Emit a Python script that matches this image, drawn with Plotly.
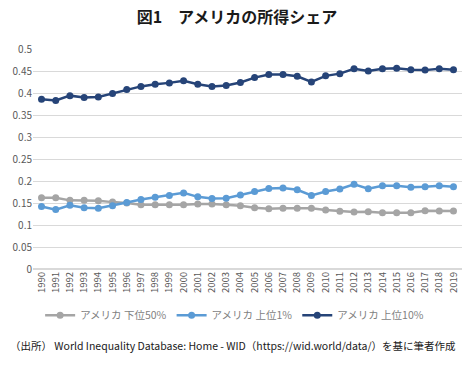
import plotly.graph_objects as go

years = [str(y) for y in range(1990, 2020)]
bottom50 = [0.162, 0.162, 0.156, 0.156, 0.155, 0.152, 0.150, 0.146, 0.146, 0.146,
            0.146, 0.148, 0.148, 0.146, 0.144, 0.139, 0.137, 0.138, 0.138, 0.138,
            0.134, 0.131, 0.1295, 0.130, 0.128, 0.128, 0.128, 0.1325, 0.132, 0.132]
top1 = [0.142, 0.135, 0.145, 0.139, 0.138, 0.144, 0.151, 0.158, 0.163, 0.167,
        0.173, 0.164, 0.160, 0.161, 0.168, 0.176, 0.183, 0.184, 0.180, 0.167,
        0.176, 0.182, 0.1925, 0.1825, 0.189, 0.189, 0.186, 0.187, 0.189, 0.187]
top10 = [0.386, 0.383, 0.394, 0.390, 0.391, 0.399, 0.408, 0.415, 0.420, 0.423,
         0.428, 0.420, 0.415, 0.417, 0.424, 0.435, 0.442, 0.442, 0.438, 0.425,
         0.439, 0.444, 0.455, 0.450, 0.455, 0.456, 0.453, 0.452, 0.455, 0.453]
names = ["アメリカ 下位50%", "アメリカ 上位1%", "アメリカ 上位10%"]
colors = ["#A5A5A5", "#5B9BD5", "#264478"]
ytickvals = [0, 0.05, 0.1, 0.15, 0.2, 0.25, 0.3, 0.35, 0.4, 0.45, 0.5]
yticktext = ["0", "0.05", "0.1", "0.15", "0.2", "0.25", "0.3", "0.35", "0.4", "0.45", "0.5"]

FONT = "Noto Sans CJK JP"
fig = go.Figure()
for name, vals, c in zip(names, [bottom50, top1, top10], colors):
    fig.add_trace(go.Scatter(x=years, y=vals, name=name, mode="lines+markers",
                             line=dict(color=c, width=2.5),
                             marker=dict(color=c, size=7)))

fig.update_layout(
    width=474, height=365,
    margin=dict(l=33, r=12, t=49, b=96),
    paper_bgcolor="white", plot_bgcolor="white",
    font=dict(family=FONT, color="#595959", size=10),
    title=dict(text="<b>図1　アメリカの所得シェア</b>", x=0.5, xanchor="center",
               y=1 - 17/365, yanchor="middle",
               font=dict(family=FONT, size=16, color="#1a1a1a")),
    xaxis=dict(type="category", tickangle=-90, showgrid=False, showline=False,
               ticks="", tickfont=dict(size=9.5, color="#595959"),
               range=[-0.6, 29.6]),
    yaxis=dict(range=[0, 0.5], tickvals=ytickvals, ticktext=yticktext,
               showgrid=True, gridcolor="#D9D9D9", gridwidth=1, zeroline=True,
               zerolinecolor="#D9D9D9", showline=False, ticks="",
               tickfont=dict(size=10, color="#595959")),
    legend=dict(orientation="h", x=0.47, xanchor="center", y=-0.21, yanchor="middle",
                font=dict(size=10.5, color="#7f7f7f"), itemwidth=30),
    showlegend=True,
)
fig.add_annotation(text="（出所） World Inequality Database: Home - WID（https://wid.world/data/）を基に筆者作成",
                   xref="paper", yref="paper", x=0.467, xanchor="center",
                   y=(269 - 345) / 220, yanchor="middle", showarrow=False,
                   font=dict(family=FONT, size=10.5, color="#1a1a1a"))
fig.write_html("out.html")
